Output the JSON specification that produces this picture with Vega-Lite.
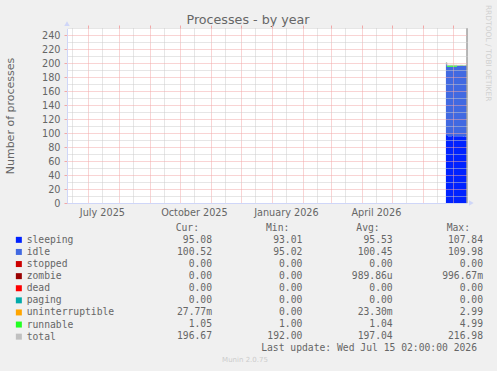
{
  "$schema": "https://vega.github.io/schema/vega-lite/v6.json",
  "width": 400,
  "height": 175,
  "autosize": {"type": "none"},
  "padding": {"left": 67, "top": 28, "right": 30, "bottom": 168},
  "background": "#f0f0f0",
  "config": {"view": {"fill": "#ffffff", "stroke": null}, "font": "DejaVu Sans"},
  "title": {"text": "Processes - by year", "font": "DejaVu Sans", "fontSize": 12.7, "fontWeight": "normal", "color": "#666666", "anchor": "middle", "frame": "group", "dx": -19, "dy": 36, "offset": 4, "baseline": "alphabetic"},
  "datasets": {
    "ts": [
      {"date": "2026-06-24T00:00:00", "sleeping": 97.3, "idle": 102.1, "runnable": 1.1, "total": 200.5},
      {"date": "2026-06-25T00:00:00", "sleeping": 95.7, "idle": 99.0, "runnable": 2.1, "total": 196.8},
      {"date": "2026-06-26T00:00:00", "sleeping": 95.4, "idle": 99.2, "runnable": 2.2, "total": 196.8},
      {"date": "2026-06-27T00:00:00", "sleeping": 95.3, "idle": 99.3, "runnable": 2.1, "total": 196.7},
      {"date": "2026-06-28T00:00:00", "sleeping": 95.5, "idle": 99.1, "runnable": 2.2, "total": 196.8},
      {"date": "2026-06-29T00:00:00", "sleeping": 95.4, "idle": 99.3, "runnable": 2.1, "total": 196.8},
      {"date": "2026-06-30T00:00:00", "sleeping": 95.6, "idle": 99.0, "runnable": 2.2, "total": 196.8},
      {"date": "2026-07-01T00:00:00", "sleeping": 95.4, "idle": 99.2, "runnable": 2.1, "total": 196.7},
      {"date": "2026-07-02T00:00:00", "sleeping": 95.3, "idle": 99.4, "runnable": 2.1, "total": 196.8},
      {"date": "2026-07-03T00:00:00", "sleeping": 95.5, "idle": 99.2, "runnable": 2.0, "total": 196.7},
      {"date": "2026-07-04T00:00:00", "sleeping": 95.4, "idle": 99.3, "runnable": 2.1, "total": 196.8},
      {"date": "2026-07-05T00:00:00", "sleeping": 95.3, "idle": 100.3, "runnable": 1.0, "total": 196.6},
      {"date": "2026-07-06T00:00:00", "sleeping": 95.2, "idle": 100.4, "runnable": 1.0, "total": 196.6},
      {"date": "2026-07-07T00:00:00", "sleeping": 95.4, "idle": 100.2, "runnable": 1.0, "total": 196.6},
      {"date": "2026-07-08T00:00:00", "sleeping": 95.3, "idle": 100.4, "runnable": 1.0, "total": 196.7},
      {"date": "2026-07-09T00:00:00", "sleeping": 95.2, "idle": 100.5, "runnable": 1.0, "total": 196.7},
      {"date": "2026-07-10T00:00:00", "sleeping": 95.3, "idle": 100.3, "runnable": 1.1, "total": 196.7},
      {"date": "2026-07-11T00:00:00", "sleeping": 95.1, "idle": 100.5, "runnable": 1.0, "total": 196.6},
      {"date": "2026-07-12T00:00:00", "sleeping": 95.2, "idle": 100.4, "runnable": 1.0, "total": 196.6},
      {"date": "2026-07-13T00:00:00", "sleeping": 95.1, "idle": 100.6, "runnable": 1.0, "total": 196.7},
      {"date": "2026-07-14T00:00:00", "sleeping": 95.1, "idle": 100.5, "runnable": 1.0, "total": 196.6},
      {"date": "2026-07-15T02:00:00", "sleeping": 95.08, "idle": 100.52, "runnable": 1.05, "total": 196.67}
    ],
    "stats": [
      {"series": "sleeping", "Cur": "95.08 ", "Min": "93.01 ", "Avg": "95.53 ", "Max": "107.84 "},
      {"series": "idle", "Cur": "100.52 ", "Min": "95.02 ", "Avg": "100.45 ", "Max": "109.98 "},
      {"series": "stopped", "Cur": "0.00 ", "Min": "0.00 ", "Avg": "0.00 ", "Max": "0.00 "},
      {"series": "zombie", "Cur": "0.00 ", "Min": "0.00 ", "Avg": "989.86u", "Max": "996.67m"},
      {"series": "dead", "Cur": "0.00 ", "Min": "0.00 ", "Avg": "0.00 ", "Max": "0.00 "},
      {"series": "paging", "Cur": "0.00 ", "Min": "0.00 ", "Avg": "0.00 ", "Max": "0.00 "},
      {"series": "uninterruptible", "Cur": "27.77m", "Min": "0.00 ", "Avg": "23.30m", "Max": "2.99 "},
      {"series": "runnable", "Cur": "1.05 ", "Min": "1.00 ", "Avg": "1.04 ", "Max": "4.99 "},
      {"series": "total", "Cur": "196.67 ", "Min": "192.00 ", "Avg": "197.04 ", "Max": "216.98 "}
    ]
  },
  "resolve": {"scale": {"x": "independent", "y": "independent"}, "axis": {"x": "independent", "y": "independent"}},
  "layer": [
    {
      "resolve": {"axis": {"x": "independent", "y": "independent"}},
      "layer": [
        {
          "data": {"name": "ts"},
          "transform": [
            {"fold": ["sleeping", "idle", "runnable"], "as": ["series", "value"]},
            {"window": [{"op": "row_number", "as": "rank"}], "groupby": ["date"]}
          ],
          "mark": {"type": "area", "interpolate": "step-after", "opacity": 1},
          "encoding": {
            "x": {
              "field": "date", "type": "temporal",
              "scale": {"domain": [{"year": 2025, "month": "jun", "date": 10, "hours": 2}, {"year": 2026, "month": "jul", "date": 15, "hours": 2}]},
              "axis": {
                "values": [{"year": 2025, "month": "jul", "date": 15}, {"year": 2025, "month": "oct", "date": 15}, {"year": 2026, "month": "jan", "date": 15}, {"year": 2026, "month": "apr", "date": 15}],
                "format": "%B %Y", "title": null, "grid": false, "ticks": false, "tickSize": 0,
                "labelFont": "DejaVu Sans", "labelFontSize": 9.7, "labelColor": "#666666", "labelPadding": 9.7, "labelBaseline": "middle",
                "labelFlush": false, "labelOverlap": false,
                "domainColor": "#cfd6f8", "domainWidth": 1, "zindex": 1
              }
            },
            "y": {
              "field": "value", "type": "quantitative", "stack": "zero",
              "scale": {"domain": [0, 250], "nice": false, "zero": true},
              "axis": {
                "values": [0, 20, 40, 60, 80, 100, 120, 140, 160, 180, 200, 220, 240],
                "title": "Number of processes", "titleFont": "DejaVu Sans", "titleFontSize": 11, "titleFontWeight": "normal", "titleColor": "#666666", "titlePadding": 26,
                "labelFont": "DejaVu Sans", "labelFontSize": 9.7, "labelColor": "#666666", "labelPadding": 4,
                "grid": true, "gridColor": "#f2a8a8", "gridDash": [1, 1], "gridWidth": 1, "gridOpacity": 1,
                "ticks": true, "tickColor": "#f2a8a8", "tickSize": 3,
                "domainColor": "#cfd6f8", "domainWidth": 1, "zindex": 1
              }
            },
            "color": {
              "field": "series", "type": "nominal",
              "scale": {
                "domain": ["sleeping", "idle", "stopped", "zombie", "dead", "paging", "uninterruptible", "runnable", "total"],
                "range": ["#0022ff", "#4169e1", "#cc0000", "#990000", "#ff0000", "#00aaaa", "#ffa500", "#22ff22", "#c0c0c0"]
              },
              "legend": {
                "orient": "none", "legendX": -53, "legendY": 207, "title": null, "direction": "vertical",
                "symbolType": "square", "symbolSize": 36, "symbolStrokeWidth": 0, "symbolOpacity": 1,
                "labelFont": "DejaVu Sans Mono", "labelFontSize": 9.7, "labelColor": "#666666",
                "rowPadding": 1.1, "labelOffset": 3, "padding": 0
              }
            },
            "order": {"field": "rank", "type": "quantitative"}
          }
        },
        {
          "data": {"name": "ts"},
          "mark": {"type": "line", "interpolate": "step-after", "color": "#c0c0c0", "strokeWidth": 1},
          "encoding": {
            "x": {
              "field": "date", "type": "temporal",
              "axis": {
                "values": [{"year": 2025, "month": "jul", "date": 1}, {"year": 2025, "month": "aug", "date": 1}, {"year": 2025, "month": "sep", "date": 1}, {"year": 2025, "month": "oct", "date": 1}, {"year": 2025, "month": "nov", "date": 1}, {"year": 2025, "month": "dec", "date": 1}, {"year": 2026, "month": "jan", "date": 1}, {"year": 2026, "month": "feb", "date": 1}, {"year": 2026, "month": "mar", "date": 1}, {"year": 2026, "month": "apr", "date": 1}, {"year": 2026, "month": "may", "date": 1}, {"year": 2026, "month": "jun", "date": 1}, {"year": 2026, "month": "jul", "date": 1}],
                "title": null, "labels": false, "domain": false,
                "grid": true, "gridColor": "#f2a8a8", "gridDash": [1, 1], "gridWidth": 1, "gridOpacity": 1,
                "ticks": true, "tickColor": "#f2a8a8", "tickSize": 3, "zindex": 1
              }
            },
            "y": {
              "field": "total", "type": "quantitative",
              "axis": {
                "values": [10, 30, 50, 70, 90, 110, 130, 150, 170, 190, 210, 230, 250],
                "title": null, "labels": false, "domain": false, "ticks": false,
                "grid": true, "gridColor": "#cccccc", "gridDash": [1, 1], "gridWidth": 1, "gridOpacity": 1, "zindex": 1
              }
            }
          }
        },
        {
          "data": {"values": [{"date": "2026-07-15T02:00:00"}]},
          "mark": {"type": "rule", "color": "#a0a0a0", "strokeWidth": 1.5},
          "encoding": {
            "x": {
              "field": "date", "type": "temporal",
              "axis": {
                "values": [{"year": 2025, "month": "jun", "date": 15}, {"year": 2025, "month": "jul", "date": 15}, {"year": 2025, "month": "aug", "date": 15}, {"year": 2025, "month": "sep", "date": 15}, {"year": 2025, "month": "oct", "date": 15}, {"year": 2025, "month": "nov", "date": 15}, {"year": 2025, "month": "dec", "date": 15}, {"year": 2026, "month": "jan", "date": 15}, {"year": 2026, "month": "feb", "date": 15}, {"year": 2026, "month": "mar", "date": 15}, {"year": 2026, "month": "apr", "date": 15}, {"year": 2026, "month": "may", "date": 15}, {"year": 2026, "month": "jun", "date": 15}],
                "title": null, "labels": false, "domain": false, "ticks": false,
                "grid": true, "gridColor": "#cccccc", "gridDash": [1, 1], "gridWidth": 1, "gridOpacity": 1, "zindex": 1
              }
            }
          }
        },
        {
          "data": {"values": [{"dir": "up"}]},
          "mark": {"type": "point", "shape": "triangle-up", "filled": true, "size": 30, "color": "#cfd6f8", "opacity": 1},
          "encoding": {
            "x": {"datum": {"year": 2025, "month": "jun", "date": 10, "hours": 2}, "type": "temporal", "axis": null},
            "y": {"datum": 256.4, "type": "quantitative", "axis": null}
          }
        },
        {
          "data": {"values": [{"dir": "right"}]},
          "mark": {"type": "point", "shape": "triangle-right", "filled": true, "size": 30, "color": "#cfd6f8", "opacity": 1},
          "encoding": {
            "x": {"datum": {"year": 2026, "month": "jul", "date": 19, "hours": 9}, "type": "temporal", "axis": null},
            "y": {"datum": 0, "type": "quantitative", "axis": null}
          }
        },
        {
          "data": {"values": [{"t": "RRDTOOL / TOBI OETIKER"}]},
          "mark": {"type": "text", "angle": 90, "align": "center", "baseline": "middle", "font": "DejaVu Sans", "fontSize": 7.5, "color": "#d0d0d0"},
          "encoding": {
            "x": {"datum": {"year": 2026, "month": "aug", "date": 5, "hours": 2}, "type": "temporal", "axis": null},
            "y": {"datum": 214, "type": "quantitative", "axis": null},
            "text": {"field": "t"}
          }
        }
      ]
    },
    {
      "layer": [
        {
          "data": {"name": "stats"},
          "transform": [{"fold": ["Cur", "Min", "Avg", "Max"], "as": ["col", "txt"]}],
          "mark": {"type": "text", "align": "right", "baseline": "middle", "font": "DejaVu Sans Mono", "fontSize": 9.7, "color": "#666666"},
          "encoding": {
            "x": {"field": "col", "type": "nominal", "scale": {"type": "point", "domain": ["Cur", "Min", "Avg", "Max"], "range": [145, 416], "padding": 0}, "axis": null},
            "y": {"field": "series", "type": "nominal", "scale": {"type": "point", "domain": ["hdr", "sleeping", "idle", "stopped", "zombie", "dead", "paging", "uninterruptible", "runnable", "total", "last", "munin"], "range": [199.7, 331.7], "padding": 0}, "axis": null},
            "text": {"field": "txt"}
          }
        },
        {
          "data": {"values": [{"col": "Cur", "h": "Cur:"}, {"col": "Min", "h": "Min:"}, {"col": "Avg", "h": "Avg:"}, {"col": "Max", "h": "Max:"}]},
          "mark": {"type": "text", "align": "right", "baseline": "middle", "dx": -13, "font": "DejaVu Sans Mono", "fontSize": 9.7, "color": "#666666"},
          "encoding": {
            "x": {"field": "col", "type": "nominal", "axis": null},
            "y": {"datum": "hdr", "type": "nominal", "axis": null},
            "text": {"field": "h"}
          }
        },
        {
          "data": {"values": [{"t": "Last update: Wed Jul 15 02:00:00 2026"}]},
          "mark": {"type": "text", "align": "right", "baseline": "middle", "dx": -6, "font": "DejaVu Sans Mono", "fontSize": 9.7, "color": "#666666"},
          "encoding": {
            "x": {"datum": "Max", "type": "nominal", "axis": null},
            "y": {"datum": "last", "type": "nominal", "axis": null},
            "text": {"field": "t"}
          }
        },
        {
          "data": {"values": [{"t": "Munin 2.0.75"}]},
          "mark": {"type": "text", "align": "center", "baseline": "middle", "dx": 33, "font": "DejaVu Sans", "fontSize": 7, "color": "#cccccc"},
          "encoding": {
            "x": {"datum": "Cur", "type": "nominal", "axis": null},
            "y": {"datum": "munin", "type": "nominal", "axis": null},
            "text": {"field": "t"}
          }
        }
      ]
    }
  ]
}
